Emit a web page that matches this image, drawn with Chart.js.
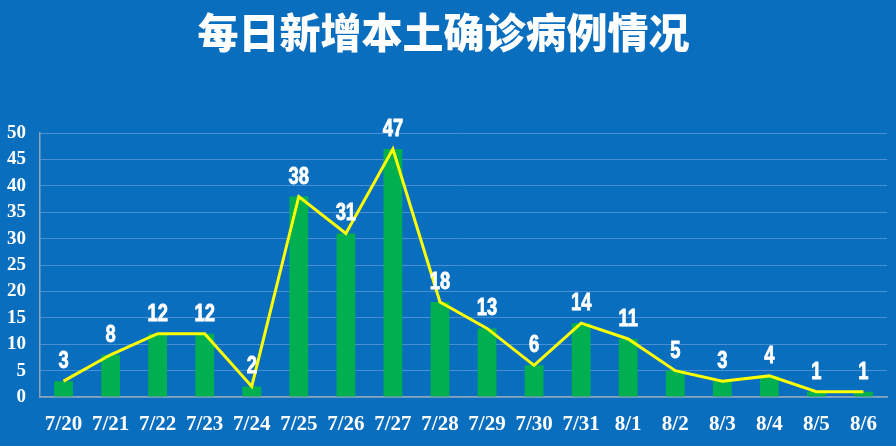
<!DOCTYPE html>
<html><head><meta charset="utf-8">
<script src="https://cdn.jsdelivr.net/npm/chart.js@4/dist/chart.umd.min.js"></script>
<style>
html,body{margin:0;padding:0;background:#0a6ebf;}
#wrap{width:896px;height:446px;position:relative;}
</style></head>
<body><div id="wrap"><canvas id="c"></canvas></div>
<script>
const titleText = '每日新增本土确诊病例情况';
const categories = ['7/20','7/21','7/22','7/23','7/24','7/25','7/26','7/27','7/28','7/29','7/30','7/31','8/1','8/2','8/3','8/4','8/5','8/6'];
const dailyCases = [3,8,12,12,2,38,31,47,18,13,6,14,11,5,3,4,1,1];
const yTicks = [0,5,10,15,20,25,30,35,40,45,50];

const labelPlugin = {
  id:'valueLabels',
  afterDatasetsDraw(chart){
    const meta = chart.getDatasetMeta(1);
    const ctx = chart.ctx;
    meta.data.forEach((pt,i)=>{
      ctx.save();
      ctx.fillStyle = '#ffffff';
      ctx.strokeStyle = '#ffffff';
      ctx.lineWidth = 0.8;
      ctx.font = 'bold 23px "Liberation Sans", Arial, sans-serif';
      ctx.textAlign = 'center';
      ctx.textBaseline = 'alphabetic';
      ctx.translate(pt.x, pt.y - 13);
      ctx.scale(0.8, 1);
      ctx.fillText(String(dailyCases[i]), 0, 0);
      ctx.strokeText(String(dailyCases[i]), 0, 0);
      ctx.restore();
    });
  }
};

new Chart(document.getElementById('c'), {
  data:{
    labels: categories,
    datasets:[
      {type:'bar', data: dailyCases, backgroundColor:'#00b050', barPercentage:0.4, categoryPercentage:1.0, order:2},
      {type:'line', data: dailyCases, borderColor:'#ffff00', borderWidth:3, pointRadius:0, tension:0, order:1}
    ]
  },
  options:{
    responsive:true, maintainAspectRatio:false, animation:false,
    layout:{padding:{left:0,right:9,top:0,bottom:0}},
    plugins:{
      legend:{display:false}, tooltip:{enabled:false},
      title:{display:true, text:titleText, color:'#ffffff',
        font:{family:'"Noto Sans CJK SC"', size:41, weight:900}, padding:{top:8,bottom:76}}
    },
    scales:{
      x:{
        grid:{display:false, drawTicks:false},
        border:{display:true, color:'#8fa3b8', width:1.5},
        ticks:{color:'#ffffff', font:{family:'"Liberation Serif", serif', size:21, weight:'bold'}, padding:15, maxRotation:0, autoSkip:false},
        afterFit(s){ s.height = 49; }
      },
      y:{
        min:0, max:50,
        afterBuildTicks(s){ s.ticks = yTicks.map(v=>({value:v})); },
        grid:{color:'#4a8fd4', lineWidth:1, drawTicks:false},
        border:{display:true, color:'#8fa3b8', width:1.5},
        ticks:{color:'#ffffff', font:{family:'"Liberation Serif", serif', size:19, weight:'bold'}, padding:14, autoSkip:false},
        afterFit(s){ s.width = 40; }
      }
    }
  },
  plugins:[labelPlugin]
});
</script></body></html>
